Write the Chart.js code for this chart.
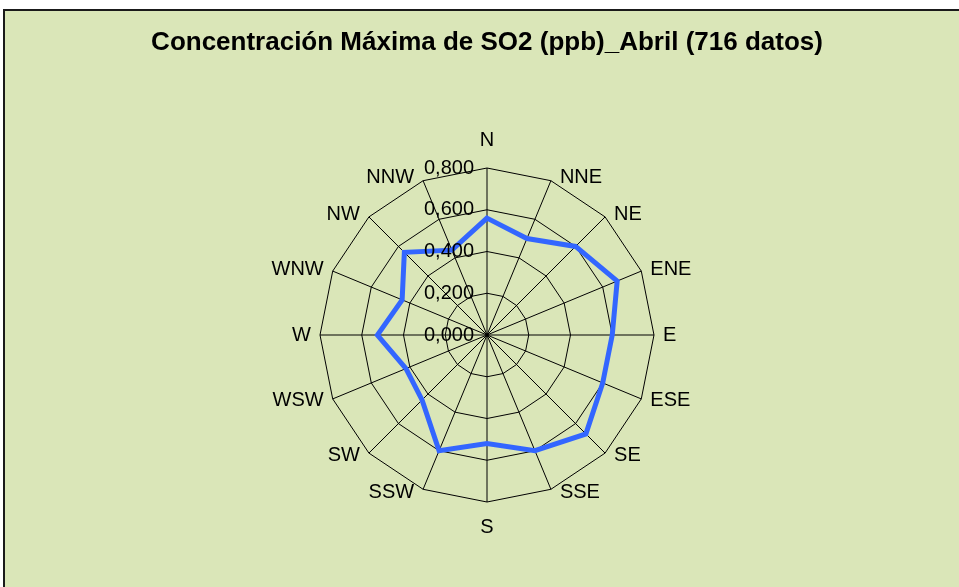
<!DOCTYPE html>
<html>
<head>
<meta charset="utf-8">
<script src="https://cdn.jsdelivr.net/npm/chart.js@4/dist/chart.umd.min.js"></script>
<style>
  html, body { margin: 0; padding: 0; background: #ffffff; }
  #wrap { position: relative; width: 959px; height: 587px; overflow: hidden; background: #ffffff; }
  #panel { position: absolute; left: 3px; top: 9px; width: 1000px; height: 1000px;
           background: rgb(218,230,184); border-left: 2px solid #1a1a1a; border-top: 2px solid #1a1a1a; }
  #c { position: absolute; left: 15px; top: 0; }
</style>
</head>
<body>
<div id="wrap">
  <div id="panel"></div>
  <canvas id="c" width="944" height="587"></canvas>
</div>
<script>
const titleText = 'Concentración Máxima de SO2 (ppb)_Abril (716 datos)';
const directions = ['N','NNE','NE','ENE','E','ESE','SE','SSE','S','SSW','SW','WSW','W','WNW','NW','NNW'];
const maxConcentration = [0.56, 0.50, 0.60, 0.675, 0.60, 0.60, 0.67, 0.60, 0.52, 0.60, 0.44, 0.42, 0.525, 0.44, 0.56, 0.44];
const tickValues = [0, 0.2, 0.4, 0.6, 0.8];
const tickLabels = ['0,000', '0,200', '0,400', '0,600', '0,800'];

Chart.defaults.font.family = 'Liberation Sans';
const labelFont = '20px "Liberation Sans"';

const radarText = {
  id: 'radarText',
  afterDatasetsDraw(chart) {
    const scale = chart.scales.r;
    const ctx = chart.ctx;
    ctx.save();
    ctx.fillStyle = '#000';
    ctx.font = labelFont;
    ctx.textAlign = 'right';
    ctx.textBaseline = 'middle';
    scale.ticks.forEach((t, i) => {
      const d = scale.getDistanceFromCenterForValue(t.value);
      ctx.fillText(tickLabels[i] !== undefined ? tickLabels[i] : t.label, scale.xCenter - 13, scale.yCenter - d);
    });
    const n = chart.data.labels.length;
    chart.data.labels.forEach((lab, i) => {
      const p = scale.getPointPosition(i, scale.drawingArea);
      const deg = i * 360 / n;
      const c = Math.cos(deg * Math.PI / 180);
      let x = p.x, y = p.y;
      if (deg === 0) { ctx.textAlign = 'center'; y = p.y - 28; }
      else if (deg === 180) { ctx.textAlign = 'center'; y = p.y + 25; }
      else if (deg < 180) { ctx.textAlign = 'left'; x = p.x + 9; y = p.y - 3 * c; }
      else { ctx.textAlign = 'right'; x = p.x - 9; y = p.y - 3 * c; }
      ctx.fillText(lab, x, y);
    });
    ctx.restore();
  }
};

new Chart(document.getElementById('c'), {
  type: 'radar',
  data: {
    labels: directions,
    datasets: [{
      label: 'SO2',
      data: maxConcentration,
      borderColor: '#3366FF',
      borderWidth: 5,
      fill: false,
      pointRadius: 0,
      pointHoverRadius: 0,
      tension: 0,
      borderJoinStyle: 'miter'
    }]
  },
  options: {
    responsive: false,
    animation: false,
    devicePixelRatio: 1,
    layout: { padding: { left: 0, right: 0, top: 0, bottom: 84 } },
    plugins: {
      legend: { display: false },
      tooltip: { enabled: false },
      title: {
        display: true,
        text: titleText,
        color: '#000',
        font: { family: 'Liberation Sans', size: 26, weight: 'bold', lineHeight: 1.2 },
        padding: { top: 27, bottom: 110 }
      }
    },
    scales: {
      r: {
        min: tickValues[0],
        max: tickValues[tickValues.length - 1],
        ticks: { stepSize: tickValues[1] - tickValues[0], display: false },
        grid: { circular: false, color: '#000', lineWidth: 1 },
        angleLines: { display: true, color: '#000', lineWidth: 1 },
        pointLabels: { display: false }
      }
    }
  },
  plugins: [radarText]
});
</script>
</body>
</html>
